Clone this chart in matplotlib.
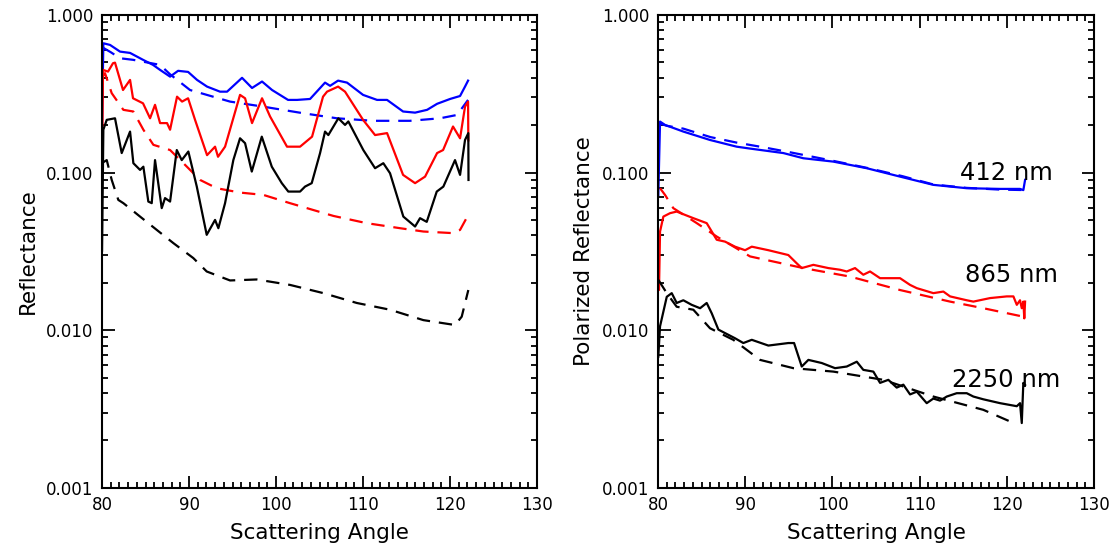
import matplotlib
matplotlib.use("Agg")
import matplotlib.pyplot as plt
from matplotlib.ticker import MultipleLocator, LogLocator, NullFormatter
import numpy as np

# ---------------- Left panel: Reflectance ----------------
L_blue_x = [80.0, 80.15, 80.92, 82.07, 83.22, 84.71, 85.86, 86.67, 87.82, 88.74, 89.89, 90.92, 92.07,
            93.56, 94.37, 96.09, 97.24, 98.39, 99.54, 101.38, 102.41, 103.91, 105.63, 106.21, 107.13,
            108.16, 110.0, 111.61, 112.76, 114.6, 115.98, 117.36, 118.51, 120.0, 121.15, 121.72, 122.07]
L_blue_y = [0.206, 0.661, 0.645, 0.585, 0.574, 0.519, 0.482, 0.448, 0.406, 0.442, 0.435, 0.387, 0.351,
            0.326, 0.326, 0.399, 0.344, 0.378, 0.334, 0.289, 0.289, 0.293, 0.372, 0.355, 0.383,
            0.372, 0.311, 0.289, 0.289, 0.244, 0.240, 0.250, 0.273, 0.293, 0.306, 0.351, 0.383]

L_blue_dash_x = [80.1, 81.0, 82.07, 83.56, 86.67, 87.82, 90.11, 94.71, 98.51, 103.1, 107.0, 111.15,
                 115.4, 118.85, 120.8, 122.07]
L_blue_dash_y = [0.62, 0.58, 0.531, 0.519, 0.482, 0.420, 0.334, 0.282, 0.262, 0.238, 0.221, 0.213,
                 0.213, 0.221, 0.232, 0.289]

L_red_x = [80.0, 80.11, 80.69, 81.26, 81.49, 82.41, 83.22, 83.56, 84.71, 85.52, 86.09, 86.67, 87.47,
           87.82, 88.62, 89.2, 89.89, 90.69, 92.07, 92.99, 93.33, 94.14, 95.86, 96.44, 97.24, 98.39,
           99.31, 101.26, 102.76, 104.14, 105.4, 105.86, 107.13, 107.93, 110.0, 111.38, 112.76,
           114.6, 115.98, 117.13, 118.51, 119.2, 120.34, 121.15, 121.72, 122.07, 122.1]
L_red_y = [0.104, 0.448, 0.437, 0.494, 0.498, 0.334, 0.387, 0.296, 0.275, 0.221, 0.269, 0.206, 0.206,
           0.187, 0.303, 0.282, 0.296, 0.216, 0.129, 0.146, 0.126, 0.146, 0.311, 0.296, 0.206, 0.296,
           0.227, 0.146, 0.146, 0.169, 0.303, 0.326, 0.351, 0.326, 0.216, 0.173, 0.178,
           0.0967, 0.0857, 0.0943, 0.133, 0.139, 0.196, 0.165, 0.262, 0.282, 0.16]

L_red_dash_x = [80.0, 80.34, 81.11, 82.45, 83.6, 84.75, 85.9, 87.82, 89.35, 91.26, 93.18, 95.86, 98.54,
                101.6, 106.6, 110.4, 114.25, 116.93, 120.38, 121.15, 122.1]
L_red_dash_y = [0.40, 0.427, 0.319, 0.250, 0.244, 0.187, 0.150, 0.139, 0.1147, 0.0899, 0.0796, 0.0747,
                0.0722, 0.064, 0.0531, 0.0478, 0.0444, 0.0423, 0.0413, 0.0433, 0.054]

L_black_x = [80.0, 80.15, 80.54, 81.49, 82.26, 83.22, 83.6, 84.37, 84.75, 85.32, 85.71, 86.09, 86.86,
             87.24, 87.82, 88.59, 89.16, 89.92, 90.89, 92.03, 92.99, 93.37, 94.14, 95.09, 95.86, 96.44,
             97.21, 98.36, 99.51, 100.66, 101.41, 102.76, 103.33, 104.1, 105.06, 105.63, 106.01,
             107.16, 107.93, 108.31, 110.03, 111.38, 112.33, 113.1, 114.63, 115.98, 116.55, 117.32,
             118.47, 119.23, 120.57, 121.15, 121.72, 122.1, 122.12]
L_black_y = [0.032, 0.187, 0.216, 0.221, 0.133, 0.182, 0.1147, 0.104, 0.109, 0.0655, 0.064, 0.120, 0.0595,
             0.0689, 0.0655, 0.139, 0.120, 0.136, 0.0815, 0.0403, 0.0501, 0.0444, 0.064, 0.120, 0.165,
             0.1536, 0.1015, 0.169, 0.109, 0.0857, 0.0758, 0.0758, 0.0815, 0.0857, 0.133, 0.182, 0.173,
             0.221, 0.2006, 0.211, 0.139, 0.1066, 0.1147, 0.0991, 0.0526, 0.0455, 0.0514, 0.0487,
             0.0758, 0.0815, 0.120, 0.0967, 0.161, 0.178, 0.0898]

L_black_dash_x = [80.0, 80.54, 81.11, 81.87, 82.45, 84.37, 86.29, 88.2, 90.49, 92.03, 94.71, 97.78,
                  101.6, 105.44, 109.28, 113.1, 116.93, 120.57, 121.34, 122.1]
L_black_dash_y = [0.115, 0.120, 0.0899, 0.0671, 0.064, 0.0526, 0.0433, 0.0357, 0.0287, 0.0236, 0.0207,
                  0.0210, 0.0194, 0.0172, 0.0149, 0.0135, 0.0116, 0.0108, 0.0122, 0.0180]

# ---------------- Right panel: Polarized Reflectance ----------------
R_blue_x = [80.03, 80.23, 80.8, 82.9, 85.96, 89.02, 90.55, 94.37, 96.66, 100.1, 103.93, 107.75,
            111.57, 115.4, 119.22, 121.51, 121.89, 122.09]
R_blue_y = [0.0722, 0.2106, 0.2006, 0.182, 0.161, 0.146, 0.142, 0.133, 0.1233, 0.1174, 0.1066, 0.0943,
            0.0836, 0.0796, 0.0788, 0.0788, 0.0774, 0.0899]

R_blue_dash_x = [80.2, 81.0, 82.9, 86.0, 89.0, 92.0, 95.0, 100.0, 104.0, 108.0, 111.6, 115.4, 119.2, 121.9]
R_blue_dash_y = [0.205, 0.198, 0.190, 0.168, 0.155, 0.145, 0.135, 0.119, 0.107, 0.095, 0.084, 0.080,
                 0.078, 0.0775]

R_red_x = [80.03, 80.11, 80.23, 80.61, 81.38, 82.14, 83.1, 84.05, 85.58, 86.73, 87.68, 88.83, 89.98,
           90.75, 92.65, 94.94, 95.9, 96.48, 97.81, 99.53, 100.87, 101.64, 102.59, 103.54, 104.31,
           105.46, 107.75, 108.9, 109.67, 111.57, 112.72, 113.49, 115.4, 116.16, 118.07, 119.99,
           120.75, 121.14, 121.51, 121.71, 121.89, 122.0, 122.09]
R_red_y = [0.0209, 0.018, 0.0423, 0.0526, 0.0553, 0.0566, 0.0539, 0.0514, 0.0478, 0.0375, 0.0365,
           0.0339, 0.0322, 0.0339, 0.0322, 0.0300, 0.0266, 0.0248, 0.026, 0.0248, 0.0242, 0.0236,
           0.0248, 0.0225, 0.0236, 0.0214, 0.0214, 0.0194, 0.0185, 0.0172, 0.0176, 0.0164, 0.0155,
           0.0152, 0.0160, 0.0164, 0.0164, 0.0145, 0.0155, 0.0138, 0.0152, 0.0119, 0.0152]

R_red_dash_x = [80.23, 80.8, 81.75, 84.44, 86.73, 90.55, 96.66, 102.02, 107.75, 113.49, 117.3, 121.89]
R_red_dash_y = [0.0796, 0.0722, 0.0595, 0.0478, 0.0393, 0.0294, 0.0248, 0.0219, 0.0180, 0.0152,
                0.0138, 0.0122]

R_black_x = [80.03, 80.23, 81.0, 81.57, 82.14, 82.9, 83.86, 84.82, 85.58, 86.16, 86.92, 87.68, 88.83,
             89.78, 90.75, 92.65, 94.94, 95.6, 96.48, 97.24, 98.77, 100.3, 101.64, 102.79, 103.54,
             104.69, 105.46, 106.41, 107.37, 108.13, 108.9, 109.67, 110.81, 111.57, 112.34, 113.11,
             114.25, 115.4, 116.16, 117.3, 119.22, 121.14, 121.51, 121.71, 121.89, 122.09]
R_black_y = [0.0068, 0.0106, 0.0163, 0.0172, 0.0149, 0.0155, 0.0145, 0.0138, 0.0149, 0.0128, 0.0101,
             0.0096, 0.0089, 0.0083, 0.0087, 0.0080, 0.0083, 0.0083, 0.00589, 0.00649, 0.0062, 0.00575,
             0.00589, 0.00632, 0.00561, 0.00547, 0.00464, 0.00485, 0.00433, 0.00452, 0.00392,
             0.00408, 0.00345, 0.00369, 0.00358, 0.00380, 0.00399, 0.00399, 0.0038, 0.00365, 0.00345,
             0.00330, 0.00345, 0.00258, 0.00464, 0.0045]

R_black_dash_x = [80.03, 81.0, 82.14, 84.05, 85.96, 88.63, 91.7, 95.52, 100.1, 105.84, 111.57, 117.3, 120.37]
R_black_dash_y = [0.0209, 0.0172, 0.0141, 0.0135, 0.0103, 0.0087, 0.00649, 0.00575, 0.00547, 0.00485,
                  0.0038, 0.00313, 0.00264]

labels_text = ["412 nm", "865 nm", "2250 nm"]
labels_x = [114.6, 115.2, 113.7]
labels_y = [0.10, 0.0223, 0.00483]

x_ticks = [80, 90, 100, 110, 120, 130]
y_ticks = [0.001, 0.01, 0.1, 1.0]
y_ticklabels = ["0.001", "0.010", "0.100", "1.000"]

plt.rcParams['font.family'] = ['DejaVu Sans']

fig = plt.figure(figsize=(11.14, 5.52), dpi=100)
axL = fig.add_axes([0.0916, 0.116, 0.3905, 0.857])
axR = fig.add_axes([0.5907, 0.116, 0.3914, 0.857])

dash = (0, (6, 4))
lw = 1.6

axL.plot(L_blue_x, L_blue_y, color='#0000ff', lw=lw)
axL.plot(L_blue_dash_x, L_blue_dash_y, color='#0000ff', lw=lw, ls=dash)
axL.plot(L_red_x, L_red_y, color='#ff0000', lw=lw)
axL.plot(L_red_dash_x, L_red_dash_y, color='#ff0000', lw=lw, ls=dash)
axL.plot(L_black_x, L_black_y, color='black', lw=lw)
axL.plot(L_black_dash_x, L_black_dash_y, color='black', lw=lw, ls=dash)

axR.plot(R_blue_x, R_blue_y, color='#0000ff', lw=lw)
axR.plot(R_blue_dash_x, R_blue_dash_y, color='#0000ff', lw=lw, ls=dash)
axR.plot(R_red_x, R_red_y, color='#ff0000', lw=lw)
axR.plot(R_red_dash_x, R_red_dash_y, color='#ff0000', lw=lw, ls=dash)
axR.plot(R_black_x, R_black_y, color='black', lw=lw)
axR.plot(R_black_dash_x, R_black_dash_y, color='black', lw=lw, ls=dash)

for t, x, y in zip(labels_text, labels_x, labels_y):
    axR.text(x, y, t, fontsize=17.5, ha='left', va='center')

for ax, ylab in [(axL, "Reflectance"), (axR, "Polarized Reflectance")]:
    ax.set_yscale('log')
    ax.set_xlim(80, 130)
    ax.set_ylim(0.001, 1.0)
    ax.set_xticks(x_ticks)
    ax.xaxis.set_minor_locator(MultipleLocator(1))
    ax.set_yticks(y_ticks)
    ax.set_yticklabels(y_ticklabels)
    ax.yaxis.set_minor_locator(LogLocator(base=10, subs=np.arange(2, 10)))
    ax.yaxis.set_minor_formatter(NullFormatter())
    ax.tick_params(which='both', direction='in', top=True, right=True, width=1.3, labelsize=12)
    ax.tick_params(which='major', length=9, pad=6)
    ax.tick_params(which='minor', length=4.5)
    for s in ax.spines.values():
        s.set_linewidth(1.5)
    ax.set_xlabel("Scattering Angle", fontsize=15.5, labelpad=6)
    ax.set_ylabel(ylab, fontsize=15.5, labelpad=6)

fig.savefig("out.png", dpi=100)
